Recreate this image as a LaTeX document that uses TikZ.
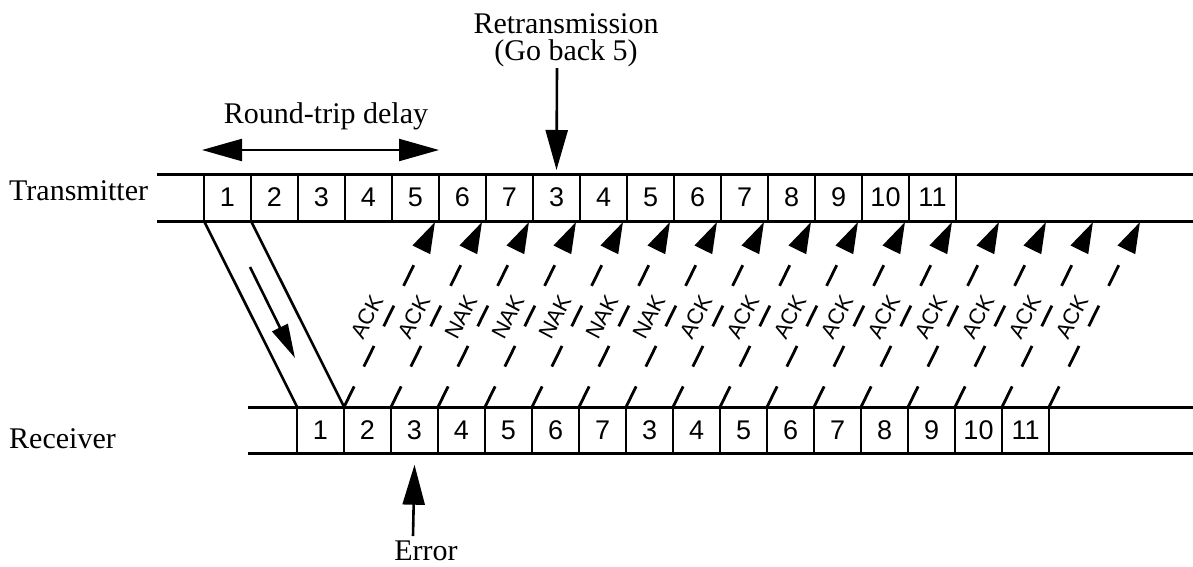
\documentclass[tikz,border=0pt]{standalone}
\usepackage{fontspec}
\setmainfont{Liberation Serif}
\setsansfont{Liberation Sans}
\usetikzlibrary{arrows.meta,calc}
\begin{document}
\begin{tikzpicture}[x=1pt,y=-1pt,
  band/.style={line width=3pt},
  cell/.style={draw,line width=2.4pt,minimum width=47pt,minimum height=47pt,
    inner sep=0pt,outer sep=0pt,font=\sffamily\fontsize{27}{27}\selectfont},
  lbl/.style={font=\fontsize{30}{30}\selectfont,inner sep=0pt},
  slant/.style={line width=2.6pt},
  fb/.style={line width=2.8pt,dash pattern=on 23pt off 22pt,
    -{Triangle[length=31pt,width=19pt]}},
  fbtext/.style={font=\sffamily\fontsize{22}{22}\selectfont,inner sep=0pt,rotate=62},
  bigarrow/.style={line width=2.6pt,-{Triangle[length=40pt,width=22pt]}},
  rtarrow/.style={line width=2.2pt,{Triangle[length=40pt,width=22pt]}-{Triangle[length=40pt,width=22pt]}},
  midarrow/.style={line width=2.6pt,-{Triangle[length=34pt,width=17pt]}}
]
\useasboundingbox (0,0) rectangle (1193,566);

% side labels
\node[lbl,anchor=base west] (txl) at (9,200) {Transmitter};
\node[lbl,anchor=base west] (rxl) at (9,448) {Receiver};

% band lines
\draw[band] (157,174) -- (1193,174);
\draw[band] (157,221) -- (1193,221);
\draw[band] (248,407) -- (1193,407);
\draw[band] (248,453.5) -- (1193,453.5);

% cells
\foreach \d [count=\i] in {1,2,3,4,5,6,7,3,4,5,6,7,8,9,10,11} {
  \node[cell] (tx\i) at ({204+(\i-0.5)*47},197.5) {\d};
  \node[cell] (rx\i) at ({297+(\i-0.5)*47},430.2) {\d};
}

% boundary coordinates
\foreach \j in {0,...,20} {
  \coordinate (tb\j) at ({204+\j*47-4},222);
  \coordinate (rb\j) at ({297+\j*47},407);
}

% frame transfer
\draw[slant] (tx1.south west) -- (rx1.north west);
\draw[slant] (tx2.south west) -- (rx2.north west);
\coordinate (m0) at (250,267);
\coordinate (m1) at (295,358);
\draw[midarrow] (m0) -- (m1);

% ACK / NAK feedback
\foreach \lab [count=\c from 0, evaluate=\c as \a using int(\c+1), evaluate=\c as \b using int(\c+5)]
  in {ACK,ACK,NAK,NAK,NAK,NAK,NAK,ACK,ACK,ACK,ACK,ACK,ACK,ACK,ACK,ACK} {
  \draw[fb] (rb\a) -- (tb\b);
  \node[fbtext] (fl\c) at ({297+\a*47+23},317) {\lab};
}

% round-trip delay
\node[lbl,anchor=base] (rtl) at (326,123) {Round-trip delay};
\coordinate (rt0) at (202,150);
\coordinate (rt1) at (439,150);
\draw[rtarrow] (rt0) -- (rt1);

% retransmission
\node[lbl,anchor=base] (ret1) at (566,33) {Retransmission};
\node[lbl,anchor=base] (ret2) at (566,60) {(Go back 5)};
\coordinate (retA) at (557,68);
\draw[bigarrow] (retA) -- ([yshift=4pt]tx8.north);

% error
\node[lbl,anchor=base] (err) at (426,560) {Error};
\coordinate (errA) at (413,536);
\draw[bigarrow] (errA) -- ([yshift=-11pt]rx3.south);
\end{tikzpicture}
\end{document}
